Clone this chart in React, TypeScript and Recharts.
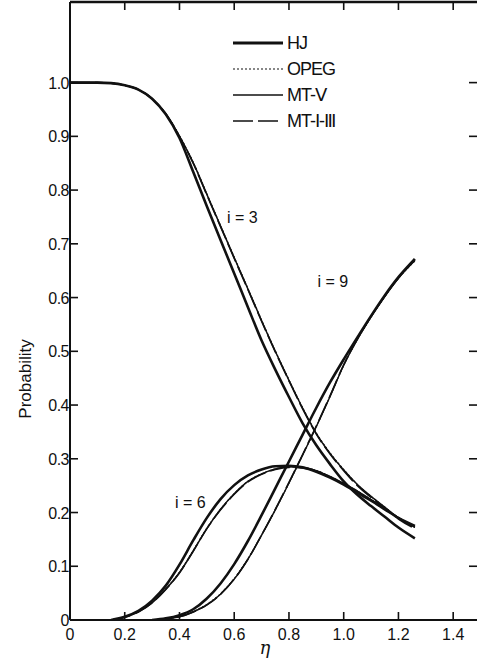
import React from 'react';
import { LineChart, Line, XAxis, YAxis, ReferenceDot, Customized } from 'recharts';

const eta = [0, 0.05, 0.1, 0.15, 0.2, 0.25, 0.3, 0.35, 0.4, 0.45, 0.5, 0.55, 0.6, 0.65, 0.7, 0.75, 0.8, 0.85, 0.9, 0.95, 1.0, 1.05, 1.1, 1.15, 1.2, 1.26];

const hj3 = [1.0, 1.0, 1.0, 0.999, 0.995, 0.987, 0.97, 0.941, 0.897, 0.834, 0.77, 0.707, 0.645, 0.582, 0.52, 0.466, 0.415, 0.366, 0.325, 0.29, 0.258, 0.233, 0.212, 0.192, 0.172, 0.152];
const hj6 = [null, null, null, 0, 0.006, 0.017, 0.036, 0.064, 0.103, 0.148, 0.19, 0.225, 0.251, 0.269, 0.28, 0.286, 0.287, 0.284, 0.276, 0.265, 0.252, 0.237, 0.222, 0.206, 0.19, 0.175];
const hj9 = [null, null, null, null, null, null, 0, 0.003, 0.009, 0.02, 0.04, 0.068, 0.104, 0.147, 0.195, 0.245, 0.295, 0.345, 0.395, 0.442, 0.485, 0.526, 0.566, 0.604, 0.638, 0.672];

const mtv3 = [1.0, 1.0, 1.0, 0.999, 0.995, 0.987, 0.97, 0.941, 0.9, 0.851, 0.792, 0.733, 0.674, 0.616, 0.557, 0.5, 0.446, 0.394, 0.347, 0.31, 0.279, 0.252, 0.23, 0.21, 0.19, 0.173];
const mtv6 = [null, null, null, 0, 0.005, 0.015, 0.032, 0.057, 0.088, 0.128, 0.17, 0.206, 0.235, 0.258, 0.272, 0.281, 0.285, 0.284, 0.278, 0.267, 0.254, 0.24, 0.224, 0.207, 0.19, 0.173];
const mtv9 = [null, null, null, null, null, null, 0, 0.002, 0.006, 0.015, 0.028, 0.048, 0.076, 0.113, 0.158, 0.205, 0.255, 0.307, 0.36, 0.416, 0.474, 0.522, 0.564, 0.602, 0.636, 0.669];

const opeg3 = [1.0, 1.0, 1.0, 0.999, 0.995, 0.987, 0.97, 0.942, 0.901, 0.852, 0.793, 0.734, 0.675, 0.617, 0.558, 0.501, 0.447, 0.395, 0.348, 0.311, 0.28, 0.252, 0.23, 0.21, 0.19, 0.172];
const opeg6 = [null, null, null, 0, 0.006, 0.016, 0.033, 0.058, 0.089, 0.129, 0.171, 0.206, 0.235, 0.258, 0.272, 0.281, 0.285, 0.284, 0.278, 0.267, 0.254, 0.24, 0.224, 0.207, 0.19, 0.174];
const opeg9 = [null, null, null, null, null, null, 0, 0.002, 0.007, 0.016, 0.029, 0.049, 0.077, 0.114, 0.158, 0.205, 0.255, 0.307, 0.36, 0.416, 0.474, 0.522, 0.564, 0.602, 0.636, 0.668];

const mt13_3 = [1.0, 1.0, 1.0, 0.999, 0.995, 0.987, 0.97, 0.942, 0.9, 0.85, 0.791, 0.732, 0.673, 0.615, 0.556, 0.499, 0.445, 0.393, 0.346, 0.309, 0.278, 0.25, 0.228, 0.208, 0.188, 0.17];
const mt13_6 = [null, null, null, 0, 0.005, 0.015, 0.032, 0.057, 0.088, 0.128, 0.17, 0.205, 0.234, 0.257, 0.271, 0.28, 0.284, 0.283, 0.277, 0.266, 0.253, 0.239, 0.223, 0.206, 0.19, 0.174];
const mt13_9 = [null, null, null, null, null, null, 0, 0.002, 0.006, 0.015, 0.028, 0.048, 0.076, 0.113, 0.158, 0.206, 0.256, 0.308, 0.361, 0.417, 0.475, 0.523, 0.565, 0.603, 0.637, 0.67];

const xTicks = [0, 0.2, 0.4, 0.6, 0.8, 1.0, 1.2, 1.4];
const topTicks = [0.2, 0.4, 0.6, 0.8, 1.0, 1.2, 1.4];
const yTicks = [0, 0.1, 0.2, 0.3, 0.4, 0.5, 0.6, 0.7, 0.8, 0.9, 1.0];
const X_MAX = 1.487;
const Y_MAX = 1.15;

const curveLabels = [
  { x: 0.63, y: 0.749, text: 'i = 3' },
  { x: 0.44, y: 0.219, text: 'i = 6' },
  { x: 0.96, y: 0.63, text: 'i = 9' },
];

const legendItems = [
  { name: 'HJ', width: 3, dash: undefined },
  { name: 'OPEG', width: 1.2, dash: '2 2' },
  { name: 'MT-Ⅴ', width: 1.5, dash: undefined },
  { name: 'MT-Ⅰ-Ⅲ', width: 1.6, dash: '20 5' },
];

const data = eta.map((e, i) => ({
  eta: e,
  hj3: hj3[i], hj6: hj6[i], hj9: hj9[i],
  mtv3: mtv3[i], mtv6: mtv6[i], mtv9: mtv9[i],
  opeg3: opeg3[i], opeg6: opeg6[i], opeg9: opeg9[i],
  mt3: mt13_3[i], mt6: mt13_6[i], mt9: mt13_9[i],
}));

const FONT = '"Liberation Sans", Arial, sans-serif';
const INK = '#111';

const fmt = (v: number) => (v === 0 ? '0' : v.toFixed(1));

const BottomTick = (props: any) => {
  const { x, y, payload } = props;
  return (
    <g>
      {payload.value !== 0 && <line x1={x} y1={y} x2={x} y2={y - 8} stroke={INK} strokeWidth={1.6} />}
      <text x={x} y={y + 20} textAnchor="middle" fontFamily={FONT} fontSize={16} fill={INK}>
        {fmt(payload.value)}
      </text>
    </g>
  );
};

const NoLabel = () => <g />;

const LeftTick = (props: any) => {
  const { x, y, payload } = props;
  return (
    <g>
      {payload.value !== 0 && <line x1={x} y1={y} x2={x + 8} y2={y} stroke={INK} strokeWidth={1.6} />}
      <text x={x - 1} y={y + 6} textAnchor="end" fontFamily={FONT} fontSize={16} letterSpacing={-0.5} fill={INK}>
        {fmt(payload.value)}
      </text>
    </g>
  );
};

const RightTick = (props: any) => {
  const { x, y, payload } = props;
  if (payload.value === 0) return <g />;
  return <line x1={x} y1={y} x2={x - 8} y2={y} stroke={INK} strokeWidth={1.6} />;
};

const LegendBox = () => (
  <g>
    {legendItems.map((it, i) => {
      const cy = 43 + i * 26;
      return (
        <g key={it.name}>
          <line x1={233} y1={cy} x2={283} y2={cy} stroke={INK} strokeWidth={it.width} strokeDasharray={it.dash} />
          <text x={287} y={cy + 6} fontFamily={FONT} fontSize={18} letterSpacing={-1} fill={INK}>
            {it.name}
          </text>
        </g>
      );
    })}
  </g>
);

const CurveLabel = (props: any) => {
  const { viewBox, value } = props;
  const cx = viewBox.x + (viewBox.width || 0) / 2;
  const cy = viewBox.y + (viewBox.height || 0) / 2;
  return (
    <text x={cx} y={cy + 6} textAnchor="middle" fontFamily={FONT} fontSize={16} fill={INK}>
      {value}
    </text>
  );
};

export default function App() {
  return (
    <div style={{ position: 'absolute', left: 0, top: 0, width: 478, height: 661, background: '#fff' }}>
      <LineChart width={478} height={661} data={data} margin={{ top: 0, right: 0, bottom: 0, left: 0 }}>
        <XAxis
          xAxisId="bottom"
          orientation="bottom"
          dataKey="eta"
          type="number"
          domain={[0, X_MAX]}
          ticks={xTicks}
          interval={0}
          height={41}
          tickSize={0}
          tickMargin={0}
          tick={<BottomTick />}
          axisLine={{ stroke: INK, strokeWidth: 2 }}
          tickLine={false}
          allowDataOverflow
        />
        <XAxis
          xAxisId="top"
          orientation="top"
          dataKey="eta"
          type="number"
          domain={[0, X_MAX]}
          ticks={topTicks}
          interval={0}
          height={2}
          tickSize={-8}
          tickMargin={0}
          tick={<NoLabel />}
          axisLine={{ stroke: INK, strokeWidth: 2.5 }}
          tickLine={{ stroke: INK, strokeWidth: 1.6 }}
          allowDataOverflow
        />
        <YAxis
          yAxisId="left"
          type="number"
          domain={[0, Y_MAX]}
          ticks={yTicks}
          interval={0}
          width={70}
          tickSize={0}
          tickMargin={0}
          tick={<LeftTick />}
          axisLine={{ stroke: INK, strokeWidth: 2 }}
          tickLine={false}
          allowDataOverflow
        />
        <YAxis
          yAxisId="right"
          orientation="right"
          type="number"
          domain={[0, Y_MAX]}
          ticks={yTicks}
          interval={0}
          width={1}
          tickSize={0}
          tickMargin={0}
          tick={<RightTick />}
          axisLine={false}
          tickLine={false}
          allowDataOverflow
        />

        {(['opeg3', 'opeg6', 'opeg9'] as const).map((k) => (
          <Line key={k} xAxisId="bottom" yAxisId="left" dataKey={k} type="monotone" stroke={INK} strokeWidth={1.2} strokeDasharray="2 2" dot={false} isAnimationActive={false} />
        ))}
        {(['mt3', 'mt6', 'mt9'] as const).map((k) => (
          <Line key={k} xAxisId="bottom" yAxisId="left" dataKey={k} type="monotone" stroke={INK} strokeWidth={1.6} strokeDasharray="20 5" dot={false} isAnimationActive={false} />
        ))}
        {(['mtv3', 'mtv6', 'mtv9'] as const).map((k) => (
          <Line key={k} xAxisId="bottom" yAxisId="left" dataKey={k} type="monotone" stroke={INK} strokeWidth={1.5} dot={false} isAnimationActive={false} />
        ))}
        {(['hj3', 'hj6'] as const).map((k) => (
          <Line key={k} xAxisId="bottom" yAxisId="left" dataKey={k} type="monotone" stroke={INK} strokeWidth={2.6} dot={false} isAnimationActive={false} />
        ))}
        <Line xAxisId="top" yAxisId="left" dataKey="hj9" type="monotone" stroke={INK} strokeWidth={2.6} dot={false} isAnimationActive={false} />

        {curveLabels.map((c) => (
          <ReferenceDot key={c.text} xAxisId="bottom" yAxisId="left" x={c.x} y={c.y} r={0} fill="none" stroke="none" label={<CurveLabel value={c.text} />} />
        ))}

        <Customized component={<LegendBox />} />
        <text x={31} y={379} transform="rotate(-90 31 379)" textAnchor="middle" fontFamily={FONT} fontSize={17} fill={INK}>Probability</text>
        <text x={265} y={654} textAnchor="middle" fontFamily="'DejaVu Serif', serif" fontStyle="italic" fontSize={18} fill={INK}>η</text>
      </LineChart>
    </div>
  );
}
